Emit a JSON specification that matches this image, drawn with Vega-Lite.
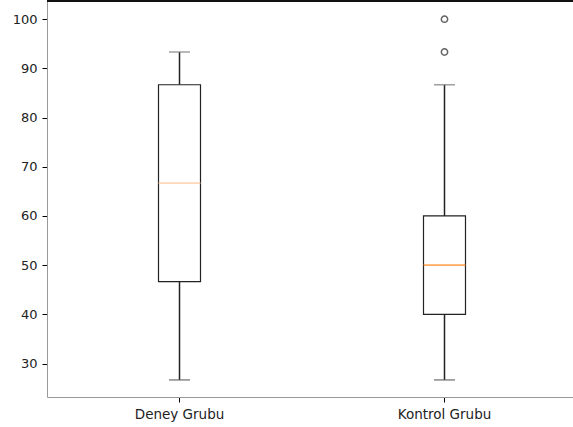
{
  "$schema": "https://vega.github.io/schema/vega-lite/v6.json",
  "autosize": "none",
  "padding": {"left": 47, "top": 1, "right": 0, "bottom": 30},
  "width": 530,
  "height": 396,
  "background": "white",
  "config": {
    "view": {"stroke": null},
    "font": "DejaVu Sans",
    "axis": {"grid": false, "domain": true, "domainColor": "#999", "domainWidth": 1, "tickColor": "#000", "tickSize": 5, "labelColor": "#222", "labelFont": "DejaVu Sans"}
  },
  "datasets": {
    "stats": [
      {"group": "Deney Grubu", "min": 26.67, "q1": 46.67, "median": 66.67, "q3": 86.67, "max": 93.33},
      {"group": "Kontrol Grubu", "min": 26.67, "q1": 40, "median": 50, "q3": 60, "max": 86.67}
    ],
    "outliers": [
      {"group": "Kontrol Grubu", "value": 93.33},
      {"group": "Kontrol Grubu", "value": 100}
    ],
    "frame": [{"top": 103.7}]
  },
  "layer": [
    {
      "data": {"name": "stats"},
      "mark": {"type": "rule", "color": "#222", "strokeWidth": 1.5},
      "encoding": {
        "x": {"field": "group", "type": "nominal", "sort": ["Deney Grubu", "Kontrol Grubu"], "scale": {"paddingInner": 0, "paddingOuter": 0}, "axis": {"title": null, "labelAngle": 0, "labelFontSize": 13.5, "labelPadding": 5}},
        "y": {"field": "min", "type": "quantitative", "scale": {"domain": [23.2, 103.7], "nice": false, "zero": false}, "axis": {"title": null, "values": [30, 40, 50, 60, 70, 80, 90, 100], "labelFontSize": 13, "labelPadding": 5}},
        "y2": {"field": "q1"}
      }
    },
    {
      "data": {"name": "stats"},
      "mark": {"type": "rule", "color": "#222", "strokeWidth": 1.5},
      "encoding": {
        "x": {"field": "group", "type": "nominal"},
        "y": {"field": "q3", "type": "quantitative"},
        "y2": {"field": "max"}
      }
    },
    {
      "data": {"name": "stats"},
      "mark": {"type": "bar", "fill": "white", "stroke": "#222", "strokeWidth": 1.2, "size": 42},
      "encoding": {
        "x": {"field": "group", "type": "nominal"},
        "y": {"field": "q1", "type": "quantitative"},
        "y2": {"field": "q3"}
      }
    },
    {
      "data": {"name": "stats"},
      "mark": {"type": "tick", "size": 42, "thickness": 1.8},
      "encoding": {
        "x": {"field": "group", "type": "nominal"},
        "y": {"field": "median", "type": "quantitative"},
        "color": {"field": "group", "type": "nominal", "scale": {"domain": ["Deney Grubu", "Kontrol Grubu"], "range": ["#ffc597", "#ff8418"]}, "legend": null}
      }
    },
    {
      "data": {"name": "stats"},
      "mark": {"type": "tick", "color": "#555", "size": 21, "thickness": 1.5},
      "encoding": {
        "x": {"field": "group", "type": "nominal"},
        "y": {"field": "min", "type": "quantitative"}
      }
    },
    {
      "data": {"name": "stats"},
      "mark": {"type": "tick", "color": "#777", "size": 21, "thickness": 1.5},
      "encoding": {
        "x": {"field": "group", "type": "nominal"},
        "y": {"field": "max", "type": "quantitative"}
      }
    },
    {
      "data": {"name": "outliers"},
      "mark": {"type": "point", "shape": "circle", "filled": false, "stroke": "#222", "strokeWidth": 1.5, "size": 40},
      "encoding": {
        "x": {"field": "group", "type": "nominal"},
        "y": {"field": "value", "type": "quantitative"}
      }
    },
    {
      "data": {"name": "frame"},
      "mark": {"type": "rule", "color": "#111", "strokeWidth": 2},
      "encoding": {
        "y": {"field": "top", "type": "quantitative"}
      }
    }
  ]
}
